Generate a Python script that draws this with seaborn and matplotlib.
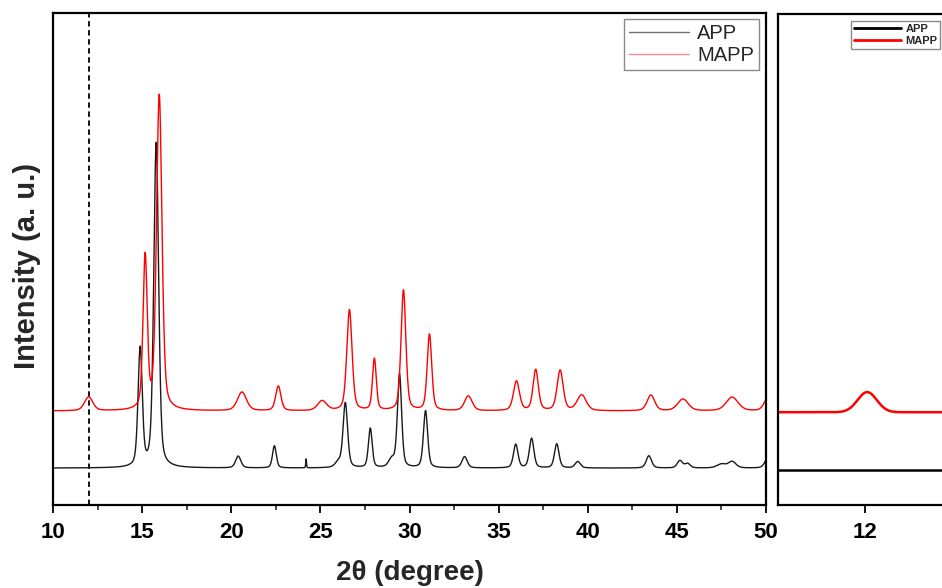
import numpy as np
import pandas as pd
import matplotlib
matplotlib.use("Agg")
import matplotlib.pyplot as plt
from matplotlib.lines import Line2D
from matplotlib.ticker import MultipleLocator
import seaborn as sns

# ---------------- data ----------------
two_theta_range = [10.0, 50.0]
marker_line_x = 12.0

app_baseline = 7.5
app_peak_pos = [14.89, 15.79, 20.39, 22.42, 24.20, 26.00, 26.40, 27.80, 29.00, 29.44,
                30.90, 33.09, 35.96, 36.85, 38.26, 39.44, 43.43, 45.17, 45.60, 47.50,
                48.10, 50.10]
app_peak_height = [24.0, 66.0, 2.4, 4.5, 1.8, 1.0, 13.2, 8.0, 1.6, 19.0,
                   11.6, 2.3, 4.8, 6.0, 4.9, 1.3, 2.5, 1.5, 0.9, 0.8,
                   1.3, 2.0]
app_peak_fwhm = [0.28, 0.32, 0.35, 0.25, 0.05, 0.40, 0.30, 0.25, 0.40, 0.28,
                 0.28, 0.35, 0.30, 0.30, 0.30, 0.35, 0.35, 0.35, 0.35, 0.60,
                 0.50, 0.40]

mapp_baseline = 19.1
mapp_peak_pos = [12.00, 15.17, 15.96, 20.60, 22.64, 25.10, 26.63, 28.03, 29.66, 31.12,
                 33.30, 36.00, 37.08, 38.45, 39.66, 43.54, 45.34, 48.10, 50.10]
mapp_peak_height = [2.8, 31.0, 64.0, 3.8, 5.0, 2.0, 20.5, 10.5, 24.5, 15.5,
                    3.0, 6.0, 8.3, 8.2, 3.2, 3.2, 2.4, 2.8, 2.6]
mapp_peak_fwhm = [0.55, 0.28, 0.36, 0.60, 0.35, 0.60, 0.35, 0.25, 0.32, 0.30,
                  0.50, 0.40, 0.35, 0.40, 0.60, 0.50, 0.70, 0.80, 0.50]

zoom_range = [10.0, 14.0]
zoom_app_level = 7.1
zoom_mapp_level = 18.9
zoom_mapp_peak_pos = [12.05]
zoom_mapp_peak_height = [4.1]
zoom_mapp_peak_fwhm = [0.52]

series_names = ["APP", "MAPP"]


def profile(x, base, pos, height, fwhm, eta=0.4):
    y = np.full_like(x, base)
    for c, h, w in zip(pos, height, fwhm):
        d2 = 4.0 * (x - c) ** 2 / w ** 2
        y += h * (eta / (1.0 + d2) + (1 - eta) * np.exp(-np.log(2) * d2))
    return y


x_main = np.linspace(two_theta_range[0], two_theta_range[1], 4001)
df_main = pd.concat([
    pd.DataFrame({"2theta": x_main, "I": profile(x_main, app_baseline, app_peak_pos,
                                                 app_peak_height, app_peak_fwhm), "sample": "APP"}),
    pd.DataFrame({"2theta": x_main, "I": profile(x_main, mapp_baseline, mapp_peak_pos,
                                                 mapp_peak_height, mapp_peak_fwhm), "sample": "MAPP"}),
])

x_zoom = np.linspace(zoom_range[0], zoom_range[1], 801)
df_zoom = pd.concat([
    pd.DataFrame({"2theta": x_zoom, "I": profile(x_zoom, zoom_app_level, [], [], [], 0.0),
                  "sample": "APP"}),
    pd.DataFrame({"2theta": x_zoom, "I": profile(x_zoom, zoom_mapp_level, zoom_mapp_peak_pos,
                                                 zoom_mapp_peak_height, zoom_mapp_peak_fwhm, 0.0),
                  "sample": "MAPP"}),
])

# ---------------- style ----------------
sns.set_style("ticks")
plt.rcParams["font.family"] = ["Liberation Sans", "DejaVu Sans"]

W, H = 942, 588
fig = plt.figure(figsize=(W / 100, H / 100), dpi=100)

def fx(px):
    return px / W

def fy(py):
    return 1 - py / H

ax = fig.add_axes([fx(53), fy(505), fx(766 - 53), (505 - 13) / H])
ax2 = fig.add_axes([fx(778), fy(505), fx(174), (505 - 14) / H])

sns.lineplot(data=df_main, x="2theta", y="I", hue="sample",
             palette={"APP": "#1a1a1a", "MAPP": "#ff0000"},
             estimator=None, sort=False, legend=False, linewidth=1.0, ax=ax)
sns.lineplot(data=df_zoom, x="2theta", y="I", hue="sample",
             palette={"APP": "#000000", "MAPP": "#ff0000"},
             estimator=None, sort=False, legend=False, linewidth=1.8, ax=ax2)

ax.axvline(marker_line_x, color="black", linestyle=(0, (3, 2)), linewidth=1.3, zorder=0)

for a in (ax, ax2):
    a.set_ylim(0, 100)
    a.set_yticks([])
    a.set_xlabel("")
    a.set_ylabel("")
    for s in a.spines.values():
        s.set_linewidth(1.6)
        s.set_color("black")
        s.set_visible(True)
    a.tick_params(axis="x", which="major", direction="out", length=6, width=1.3,
                  pad=6, labelsize=16, colors="black")
    a.tick_params(axis="x", which="minor", direction="out", length=3.5, width=1.2)

ax.set_xlim(*two_theta_range)
ax.xaxis.set_minor_locator(MultipleLocator(2.5))
ax.set_xticks(np.arange(10, 51, 5))
ax.set_xticklabels([str(v) for v in range(10, 51, 5)], fontweight="bold", fontsize=16)

ax2.set_xlim(*zoom_range)
ax2.set_xticks([12])
ax2.set_xticklabels(["12"], fontweight="bold", fontsize=16)
ax2.xaxis.set_minor_locator(matplotlib.ticker.NullLocator())

# legends
h_left = [Line2D([], [], color="#707070", lw=1.0), Line2D([], [], color="#ff8a8a", lw=1.0)]
leg1 = ax.legend(h_left, series_names, loc="upper right",
                 bbox_to_anchor=(fx(759), fy(19)), bbox_transform=fig.transFigure,
                 borderaxespad=0, fontsize=14.5, frameon=True, fancybox=False,
                 edgecolor="#8a8a8a", framealpha=1, handlelength=3.0, handletextpad=0.4,
                 borderpad=0.25, labelspacing=0.15)
leg1.get_frame().set_linewidth(1.0)

h_right = [Line2D([], [], color="black", lw=2.0), Line2D([], [], color="#ff0000", lw=2.0)]
leg2 = ax2.legend(h_right, series_names, loc="upper right",
                  bbox_to_anchor=(fx(940), fy(21)), bbox_transform=fig.transFigure,
                  borderaxespad=0, prop={"size": 8, "weight": "bold"}, frameon=True,
                  fancybox=False, edgecolor="#8a8a8a", framealpha=1, handlelength=4.2,
                  handletextpad=0.4, borderpad=0.25, labelspacing=0.2)
leg2.get_frame().set_linewidth(1.0)

fig.text(fx(27), fy(266), "Intensity (a. u.)", rotation=90, ha="center", va="center",
         fontsize=21, fontweight="bold")
fig.text(fx(410), fy(586), "2θ (degree)", ha="center", va="bottom",
         fontsize=20, fontweight="bold")

fig.savefig("out.png", dpi=100)
